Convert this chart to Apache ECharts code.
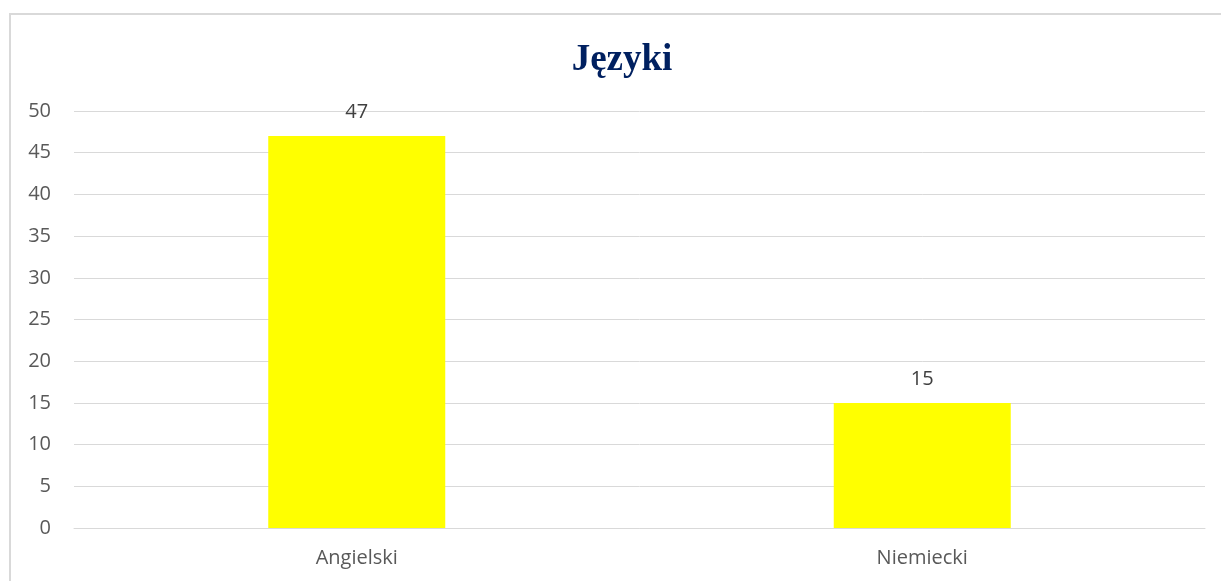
<!DOCTYPE html>
<html>
<head>
<meta charset="utf-8">
<script src="https://cdn.jsdelivr.net/npm/echarts@6/dist/echarts.min.js"></script>
<style>
  html, body { margin: 0; padding: 0; background: #fff; }
  #chart { width: 1221px; height: 581px; }
</style>
</head>
<body>
<div id="chart"></div>
<script>
// dane wykresu
var categories = ['Angielski', 'Niemiecki'];
var values = [47, 15];
var chartTitle = 'Języki';

var chart = echarts.init(document.getElementById('chart'));

var option = {
    animation: false,
    title: {
        text: chartTitle,
        left: 617,
        top: 37,
        textAlign: 'center',
        textStyle: {
            fontFamily: 'Liberation Serif',
            fontWeight: 'bold',
            fontSize: 37,
            color: '#002060'
        }
    },
    graphic: [{
        type: 'rect',
        silent: true,
        shape: { x: 10, y: 14, width: 1300, height: 700 },
        style: { fill: 'none', stroke: '#d9d9d9', lineWidth: 2 }
    }],
    grid: {
        left: 74,
        right: 16,
        top: 111,
        bottom: 53
    },
    xAxis: {
        type: 'category',
        data: categories,
        axisLine: { show: true, lineStyle: { color: '#d9d9d9', width: 1 } },
        axisTick: { show: false },
        axisLabel: {
            color: '#595959',
            fontFamily: 'Open Sans',
            fontSize: 20,
            margin: 20
        }
    },
    yAxis: {
        type: 'value',
        min: 0,
        max: 50,
        interval: 5,
        axisLine: { show: false },
        axisTick: { show: false },
        splitLine: { lineStyle: { color: '#d9d9d9', width: 1 } },
        axisLabel: {
            color: '#595959',
            fontFamily: 'Open Sans',
            fontSize: 20,
            margin: 23
        }
    },
    series: [{
        type: 'bar',
        data: values,
        barWidth: '31.3%',
        itemStyle: { color: '#ffff00' },
        label: {
            show: true,
            position: 'top',
            distance: 14,
            color: '#404040',
            fontFamily: 'Open Sans',
            fontSize: 20
        }
    }]
};

chart.setOption(option);
</script>
</body>
</html>
